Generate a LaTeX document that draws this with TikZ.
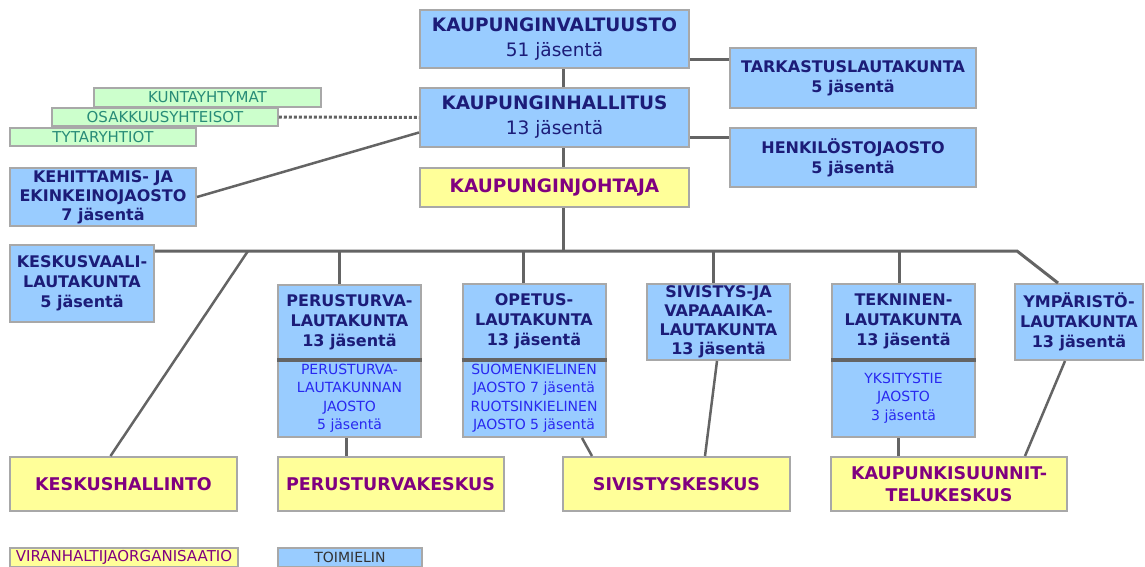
\documentclass[tikz,border=0pt]{standalone}
\usepackage{fontspec}
\setmainfont{DejaVu Sans}
\usepackage{tikz}

\definecolor{boxblue}{RGB}{153,204,255}
\definecolor{boxyellow}{RGB}{255,255,153}
\definecolor{boxgreen}{RGB}{204,255,204}
\definecolor{edgegray}{RGB}{168,168,168}
\definecolor{linegray}{RGB}{100,100,100}
\definecolor{darknavy}{RGB}{28,28,120}
\definecolor{subblue}{RGB}{40,40,240}
\definecolor{orgpurple}{RGB}{128,0,128}
\definecolor{teal}{RGB}{40,140,120}

\tikzset{
  organ/.style={draw=edgegray, line width=2pt, fill=boxblue, text=darknavy, align=center,
    inner sep=0pt, font=\bfseries\fontsize{16}{20}\selectfont},
  subsection/.style={organ, text=subblue, font=\fontsize{14}{18.5}\selectfont},
  office/.style={draw=edgegray, line width=2pt, fill=boxyellow, text=orgpurple, align=center,
    inner sep=0pt, font=\bfseries\fontsize{17.5}{22}\selectfont},
  company/.style={draw=edgegray, line width=1.5pt, fill=boxgreen, text=teal, align=center,
    inner sep=0pt, font=\fontsize{15}{16}\selectfont},
  conn/.style={draw=linegray, line width=3pt},
  thinconn/.style={draw=linegray, line width=2.5pt},
}

\begin{document}
\begin{tikzpicture}[x=1pt,y=-1pt]
\useasboundingbox (0,0) rectangle (1145,566);

% Council and board
\node[organ, minimum width=269, minimum height=58, font=\fontsize{18.5}{25}\selectfont] (valt) at (554.5,39) {\textbf{KAUPUNGINVALTUUSTO}\\51 jäsentä};
\node[organ, minimum width=269, minimum height=59, font=\fontsize{18.5}{25}\selectfont] (hall) at (554.5,117.5) {\textbf{KAUPUNGINHALLITUS}\\13 jäsentä};
\node[office, minimum width=269, minimum height=39, font=\bfseries\fontsize{18.5}{22}\selectfont] (joht) at (554.5,187) {KAUPUNGINJOHTAJA};
\node[organ, minimum width=246, minimum height=60] (tark) at (853,78) {TARKASTUSLAUTAKUNTA\\5 jäsentä};
\node[organ, minimum width=246, minimum height=59] (henk) at (853,157.5) {HENKILÖSTOJAOSTO\\5 jäsentä};

% Companies (green)
\node[company, minimum width=227, minimum height=19] (kunt) at (207.5,97.5) {KUNTAYHTYMAT};
\node[company, minimum width=226, minimum height=18] (osak) at (165,117) {OSAKKUUSYHTEISOT};
\node[company, minimum width=186, minimum height=18] (tyt) at (103,137) {TYTARYHTIOT};

\node[organ, minimum width=186, minimum height=58, font=\bfseries\fontsize{16}{19}\selectfont] (kehit) at (103,197) {KEHITTAMIS- JA\\EKINKEINOJAOSTO\\7 jäsentä};

% Boards under the bus
\node[organ, minimum width=144, minimum height=77] (kesv) at (82,283.5) {KESKUSVAALI-\\LAUTAKUNTA\\5 jäsentä};
\node[organ, minimum width=143, minimum height=74] (perus) at (349.5,322) {PERUSTURVA-\\LAUTAKUNTA\\13 jäsentä};
\node[subsection, minimum width=143, minimum height=78] (perusj) at (349.5,398) {PERUSTURVA-\\LAUTAKUNNAN\\JAOSTO\\5 jäsentä};
\node[organ, minimum width=143, minimum height=75] (opet) at (534,321.5) {OPETUS-\\LAUTAKUNTA\\13 jäsentä};
\node[subsection, minimum width=143, minimum height=78] (opetj) at (534,398) {SUOMENKIELINEN\\JAOSTO 7 jäsentä\\RUOTSINKIELINEN\\JAOSTO 5 jäsentä};
\node[organ, minimum width=143, minimum height=76, font=\bfseries\fontsize{16}{19}\selectfont] (siv) at (718.5,322) {SIVISTYS-JA\\VAPAAAIKA-\\LAUTAKUNTA\\13 jäsentä};
\node[organ, minimum width=143, minimum height=75] (tekn) at (903.5,321.5) {TEKNINEN-\\LAUTAKUNTA\\13 jäsentä};
\node[subsection, minimum width=143, minimum height=78] (teknj) at (903.5,398) {YKSITYSTIE\\JAOSTO\\3 jäsentä};
\node[organ, minimum width=128, minimum height=76] (ymp) at (1079,322) {YMPÄRISTÖ-\\LAUTAKUNTA\\13 jäsentä};

% Dividers between board and section
\draw[conn, line width=3.5pt] (perus.south west) -- (perus.south east);
\draw[conn, line width=3.5pt] (opet.south west) -- (opet.south east);
\draw[conn, line width=3.5pt] (tekn.south west) -- (tekn.south east);

% Offices (yellow)
\node[office, minimum width=227, minimum height=54] (kesh) at (123.5,484) {KESKUSHALLINTO};
\node[office, minimum width=226, minimum height=54] (perusk) at (390.5,484) {PERUSTURVAKESKUS};
\node[office, minimum width=227, minimum height=54] (sivk) at (676.5,484) {SIVISTYSKESKUS};
\node[office, minimum width=236, minimum height=54] (kaupk) at (949,484) {KAUPUNKISUUNNIT-\\TELUKESKUS};

% Legend
\node[office, minimum width=228, minimum height=19, font=\fontsize{15}{16}\selectfont] (viran) at (124,557.5) {VIRANHALTIJAORGANISAATIO};
\node[organ, minimum width=144, minimum height=19, text=black!80, font=\fontsize{14}{15}\selectfont] (toim) at (350,557.5) {TOIMIELIN};

% Connectors at the top
\draw[conn] ([xshift=8.5]valt.south) -- ([xshift=8.5]hall.north);
\draw[conn] ([xshift=8.5]hall.south) -- ([xshift=8.5]joht.north);
\draw[conn] ([yshift=-20]valt.east) -- ([yshift=-20]valt.east -| tark.west);
\draw[conn] ([yshift=-19.5]hall.east) -- ([yshift=-19.5]hall.east -| henk.west);
\draw[conn, dotted, line width=3pt] (osak.east) -- (hall.west);
\draw[thinconn] (kehit.east) -- ([yshift=-15]hall.west);

% Bus
\coordinate (bus) at (563,251);
\coordinate (busend) at (1017,251);
\coordinate (busfork) at (248,251);
\draw[conn] ([xshift=8.5]joht.south) -- (bus);
\draw[conn] (kesv.east |- bus) -- (busend) -- ([xshift=-21]ymp.north);
\draw[thinconn] (busfork) -- ([xshift=-13]kesh.north);
\draw[conn] ([xshift=-10]perus.north) -- ([xshift=-10]perus.north |- bus);
\draw[conn] ([xshift=-11]opet.north) -- ([xshift=-11]opet.north |- bus);
\draw[conn] ([xshift=-5.5]siv.north) -- ([xshift=-5.5]siv.north |- bus);
\draw[conn] ([xshift=-4.5]tekn.north) -- ([xshift=-4.5]tekn.north |- bus);

% Connectors to the offices
\draw[conn] ([xshift=-3.5]perusj.south) -- ([xshift=-3.5]perusj.south |- perusk.north);
\draw[thinconn] ([xshift=48]opetj.south) -- ([xshift=-84.5]sivk.north);
\draw[thinconn] ([xshift=-1.5]siv.south) -- ([xshift=28.5]sivk.north);
\draw[conn] ([xshift=-5.5]teknj.south) -- ([xshift=-5.5]teknj.south |- kaupk.north);
\draw[thinconn] ([xshift=-14]ymp.south) -- ([xshift=76]kaupk.north);

\end{tikzpicture}
\end{document}
